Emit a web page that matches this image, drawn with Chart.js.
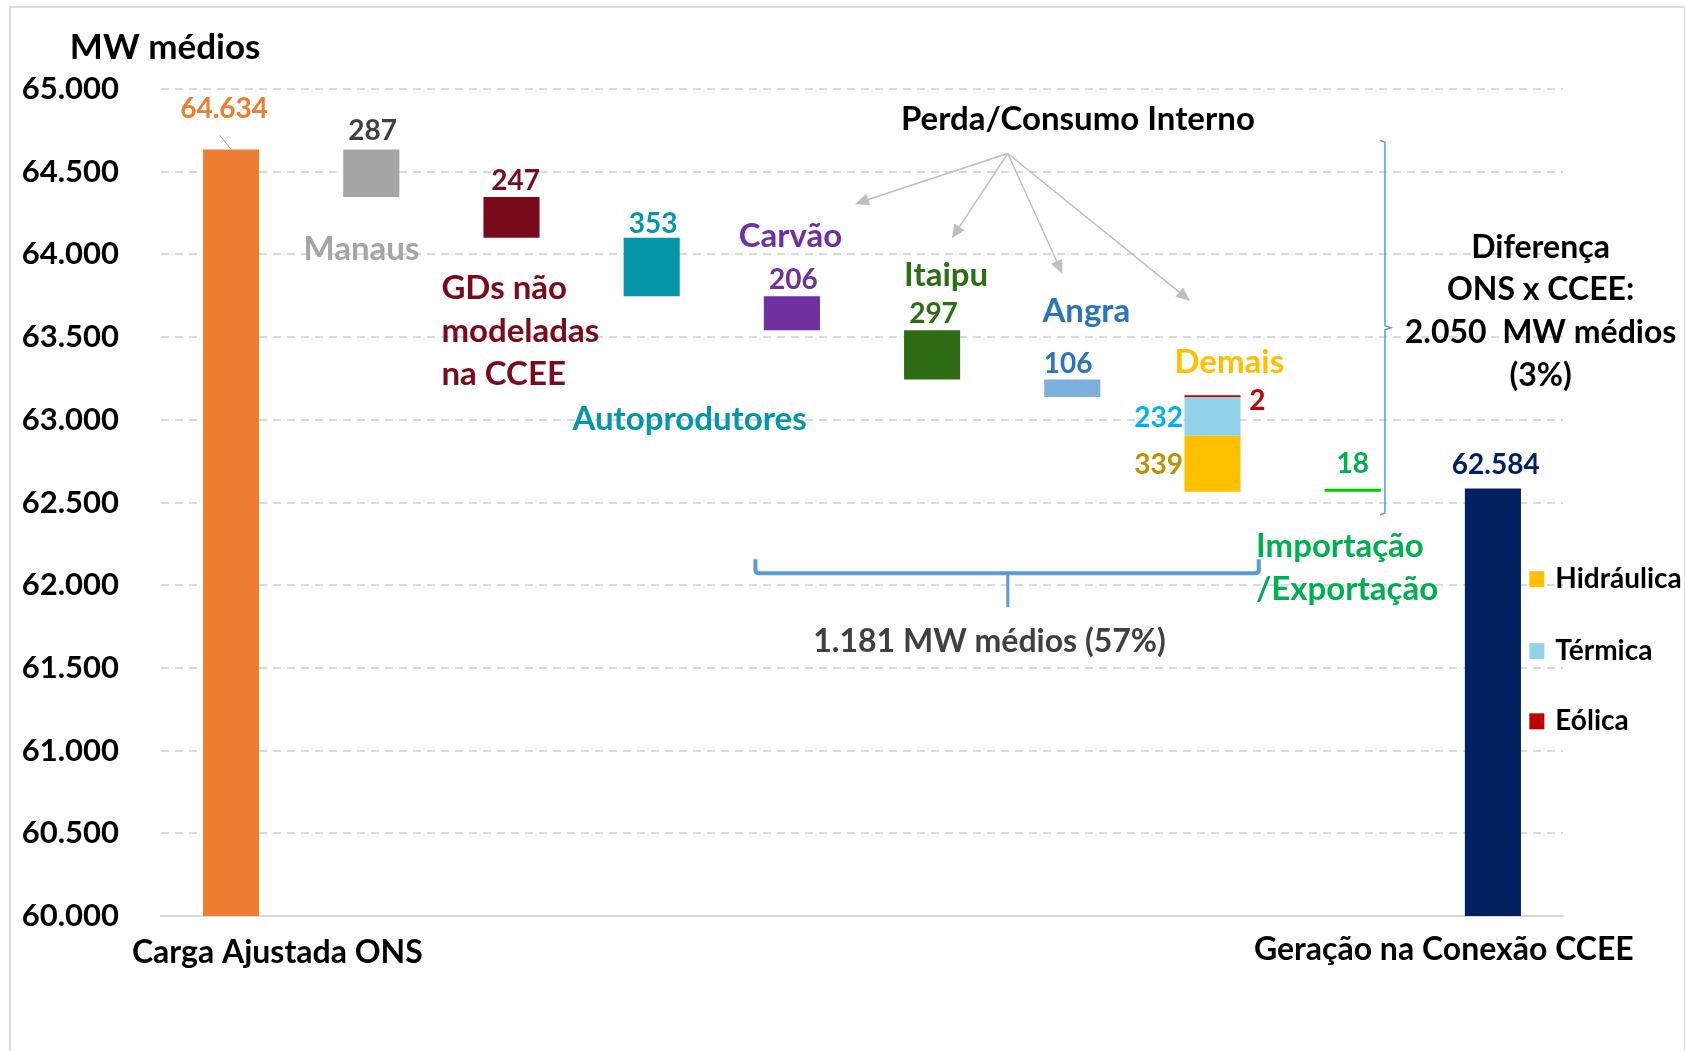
<!DOCTYPE html>
<html>
<head>
<meta charset="utf-8">
<script src="https://cdn.jsdelivr.net/npm/chart.js@4.4.0/dist/chart.umd.min.js"></script>
<style>
  html, body { margin: 0; padding: 0; background: #fff; }
  #frame { position: absolute; left: 9px; top: 6px; width: 1673px; height: 1100px; border: 2px solid #dcdcdc; border-bottom: none; }
  #plot { position: absolute; left: 0; top: 0; }
</style>
</head>
<body>
<div id="frame"></div>
<canvas id="plot" width="1685" height="1051"></canvas>
<script>
// valores em MW médios
const categories = ['Carga Ajustada ONS', 'Manaus', 'GDs não modeladas na CCEE', 'Autoprodutores', 'Carvão', 'Itaipu', 'Angra', 'Demais', 'Importação/Exportação', 'Geração na Conexão CCEE']
const cargaONS = 64634
const perdas = [287, 247, 353, 206, 297, 106]   // Manaus .. Angra
const demaisHidraulica = 339
const demaisTermica = 232
const demaisEolica = 2
const importacao = 18
const geracaoCCEE = 62584
const yMin = 60000
const yMax = 65000
const yStep = 500

const FONT = 'Lato'
const barColors = ['#ed7d31', '#a5a5a5', '#780a1a', '#0596a8', '#7030a0', '#2d6b14', '#7eb0dd', null, '#00cc00', '#002060']

function fmt(v) {
    return String(v).replace(/\B(?=(\d{3})+(?!\d))/g, '.')
}

// monta as barras flutuantes da cascata
let level = cargaONS
const waterfall = [[yMin, cargaONS]]
perdas.forEach(p => {
    waterfall.push([level - p, level])
    level -= p
})
const eolicaBar = [level - demaisEolica, level]
level -= demaisEolica
const termicaBar = [level - demaisTermica, level]
level -= demaisTermica
const hidraulicaBar = [level - demaisHidraulica, level]
level -= demaisHidraulica
waterfall.push(null)
waterfall.push([level, level + importacao])
waterfall.push([yMin, geracaoCCEE])

function onlyAt(i, v) {
    return categories.map((_, k) => k === i ? v : null)
}

const barOpts = { grouped: false, barPercentage: 0.4, categoryPercentage: 1, borderWidth: 0 }

// textos: [texto, categoria, valor, cor, tamanho, alinhamento]
const notes = [
    ['MW médios', -1.15, 65249, '#000000', 35, 'left'],
    [fmt(cargaONS), -0.05, 64877, '#ed7d31', 28, 'center'],
    [fmt(perdas[0]), 1.01, 64747, '#404040', 28, 'center'],
    ['Manaus', 0.93, 64031, '#a5a5a5', 33, 'center'],
    [fmt(perdas[1]), 2.03, 64441, '#7a0a1c', 28, 'center'],
    ['GDs não', 1.5, 63797, '#7a0a1c', 33, 'left'],
    ['modeladas', 1.5, 63537, '#7a0a1c', 33, 'left'],
    ['na CCEE', 1.5, 63277, '#7a0a1c', 33, 'left'],
    [fmt(perdas[2]), 3.01, 64187, '#0596a8', 28, 'center'],
    ['Autoprodutores', 3.27, 63004, '#0596a8', 33, 'center'],
    ['Carvão', 3.99, 64109, '#7030a0', 33, 'center'],
    [fmt(perdas[3]), 4.01, 63843, '#7030a0', 28, 'center'],
    ['Itaipu', 5.1, 63876, '#2d6e15', 33, 'center'],
    [fmt(perdas[4]), 5.01, 63641, '#2d6e15', 28, 'center'],
    ['Angra', 6.1, 63654, '#2e75b6', 33, 'center'],
    [fmt(perdas[5]), 5.97, 63337, '#2e75b6', 28, 'center'],
    ['Demais', 7.12, 63349, '#ffc000', 33, 'center'],
    [fmt(demaisEolica), 7.32, 63114, '#c00000', 28, 'center'],
    [fmt(demaisTermica), 6.79, 63011, '#00b0f0', 28, 'right'],
    [fmt(demaisHidraulica), 6.79, 62725, '#bf9000', 28, 'right'],
    [fmt(importacao), 8.0, 62730, '#00b050', 28, 'center'],
    [fmt(geracaoCCEE), 9.02, 62726, '#002060', 28, 'center'],
    ['Perda/Consumo Interno', 6.04, 64819, '#000000', 33, 'center'],
    ['Diferença', 9.34, 64039, '#000000', 32, 'center'],
    ['ONS x CCEE:', 9.34, 63786, '#000000', 32, 'center'],
    [fmt(cargaONS - geracaoCCEE) + '  MW médios', 9.34, 63525, '#000000', 32, 'center'],
    ['(3%)', 9.34, 63265, '#000000', 32, 'center'],
    ['1.181 MW médios (57%)', 5.41, 61658, '#404040', 32, 'center'],
    ['Importação', 7.31, 62236, '#00b050', 33, 'left'],
    ['/Exportação', 7.31, 61976, '#00b050', 33, 'left'],
    [categories[0], 0.33, 59780, '#000000', 32, 'center'],
    [categories[9], 8.65, 59798, '#000000', 32, 'center']
]

// setas de "Perda/Consumo Interno": origem e destinos [categoria, valor]
const arrowFrom = [5.54, 64610]
const arrowTo = [[4.45, 64305], [5.14, 64096], [5.93, 63882], [6.84, 63719]]

const annotations = {
    id: 'annotations',
    afterDatasetsDraw(chart) {
        const ctx = chart.ctx
        const xs = chart.scales.x
        const ys = chart.scales.y
        const X = c => xs.getPixelForValue(c)
        const Y = v => ys.getPixelForValue(v)
        ctx.save()

        // linha guia do rótulo 64.634
        ctx.strokeStyle = '#a6a6a6'
        ctx.lineWidth = 1
        ctx.beginPath()
        ctx.moveTo(X(-0.08), Y(64720))
        ctx.lineTo(X(0), Y(cargaONS))
        ctx.stroke()

        // setas
        ctx.strokeStyle = '#bfbfbf'
        ctx.fillStyle = '#bfbfbf'
        ctx.lineWidth = 1.5
        const ox = X(arrowFrom[0]), oy = Y(arrowFrom[1])
        arrowTo.forEach(t => {
            const tx = X(t[0]), ty = Y(t[1])
            const a = Math.atan2(ty - oy, tx - ox)
            ctx.beginPath()
            ctx.moveTo(ox, oy)
            ctx.lineTo(tx - 10 * Math.cos(a), ty - 10 * Math.sin(a))
            ctx.stroke()
            ctx.beginPath()
            ctx.moveTo(tx, ty)
            ctx.lineTo(tx - 14 * Math.cos(a) + 6 * Math.sin(a), ty - 14 * Math.sin(a) - 6 * Math.cos(a))
            ctx.lineTo(tx - 14 * Math.cos(a) - 6 * Math.sin(a), ty - 14 * Math.sin(a) + 6 * Math.cos(a))
            ctx.closePath()
            ctx.fill()
        })

        // chave vertical (diferença total)
        const bx = X(8.23)
        const bTop = Y(64690), bBot = Y(62424)
        const bMid = (bTop + bBot) / 2
        ctx.strokeStyle = '#5b9bd5'
        ctx.lineWidth = 1.5
        ctx.beginPath()
        ctx.moveTo(bx - 5, bTop)
        ctx.lineTo(bx, bTop + 2)
        ctx.lineTo(bx, bMid - 2)
        ctx.lineTo(bx + 6, bMid)
        ctx.lineTo(bx, bMid + 2)
        ctx.lineTo(bx, bBot - 2)
        ctx.lineTo(bx - 5, bBot)
        ctx.stroke()

        // chave horizontal (1.181)
        const hy = Y(62073)
        const hUp = Y(62157)
        const hDown = Y(61867)
        const hl = X(3.74), hr = X(7.33), hm = X(5.54)
        ctx.lineWidth = 4
        ctx.lineJoin = 'round'
        ctx.beginPath()
        ctx.moveTo(hl, hUp)
        ctx.lineTo(hl, hy - 3)
        ctx.quadraticCurveTo(hl, hy, hl + 4, hy)
        ctx.lineTo(hr - 4, hy)
        ctx.quadraticCurveTo(hr, hy, hr, hy - 3)
        ctx.lineTo(hr, hUp)
        ctx.stroke()
        ctx.lineWidth = 3
        ctx.beginPath()
        ctx.moveTo(hm, hy)
        ctx.lineTo(hm, hDown)
        ctx.stroke()

        // textos
        ctx.textBaseline = 'middle'
        notes.forEach(n => {
            ctx.font = `bold ${n[4]}px ${FONT}`
            ctx.fillStyle = n[3]
            ctx.textAlign = n[5]
            ctx.fillText(n[0], X(n[1]), Y(n[2]))
        })

        // legenda
        const legendItems = chart.data.datasets.slice(1)
        const legendY = [62036, 61601, 61177]
        ctx.textAlign = 'left'
        ctx.font = `bold 28px ${FONT}`
        legendItems.forEach((ds, i) => {
            const lx = X(9.26), ly = Y(legendY[i])
            ctx.fillStyle = ds.backgroundColor
            ctx.fillRect(lx, ly - 8, 15, 16)
            ctx.fillStyle = '#000000'
            ctx.fillText(ds.label, lx + 26, ly)
        })
        ctx.restore()
    }
}

const config = {
    type: 'bar',
    data: {
        labels: categories,
        datasets: [
            { label: 'Fluxo', data: waterfall, backgroundColor: barColors, ...barOpts },
            { label: 'Hidráulica', data: onlyAt(7, hidraulicaBar), backgroundColor: '#ffc000', ...barOpts },
            { label: 'Térmica', data: onlyAt(7, termicaBar), backgroundColor: '#92d3ea', ...barOpts },
            { label: 'Eólica', data: onlyAt(7, eolicaBar), backgroundColor: '#c00000', minBarLength: 2, ...barOpts }
        ]
    },
    options: {
        responsive: false,
        animation: false,
        layout: { padding: { top: 89, right: 122, bottom: 135, left: 0 } },
        plugins: {
            legend: { display: false },
            tooltip: { enabled: false }
        },
        scales: {
            x: {
                ticks: { display: false },
                grid: { display: false },
                border: { display: true, color: '#d9d9d9', width: 2 },
                afterFit: s => { s.height = 0 }
            },
            y: {
                min: yMin,
                max: yMax,
                ticks: {
                    stepSize: yStep,
                    padding: 42,
                    color: '#000000',
                    font: { family: FONT, size: 31, weight: 'bold' },
                    callback: v => fmt(v)
                },
                grid: { color: '#d9d9d9', lineWidth: 2, drawTicks: false },
                border: { display: false, dash: [8, 6] },
                afterFit: s => { s.width = 161 }
            }
        }
    },
    plugins: [annotations]
}

myChart = new Chart(document.getElementById('plot'), config)
</script>
</body>
</html>
